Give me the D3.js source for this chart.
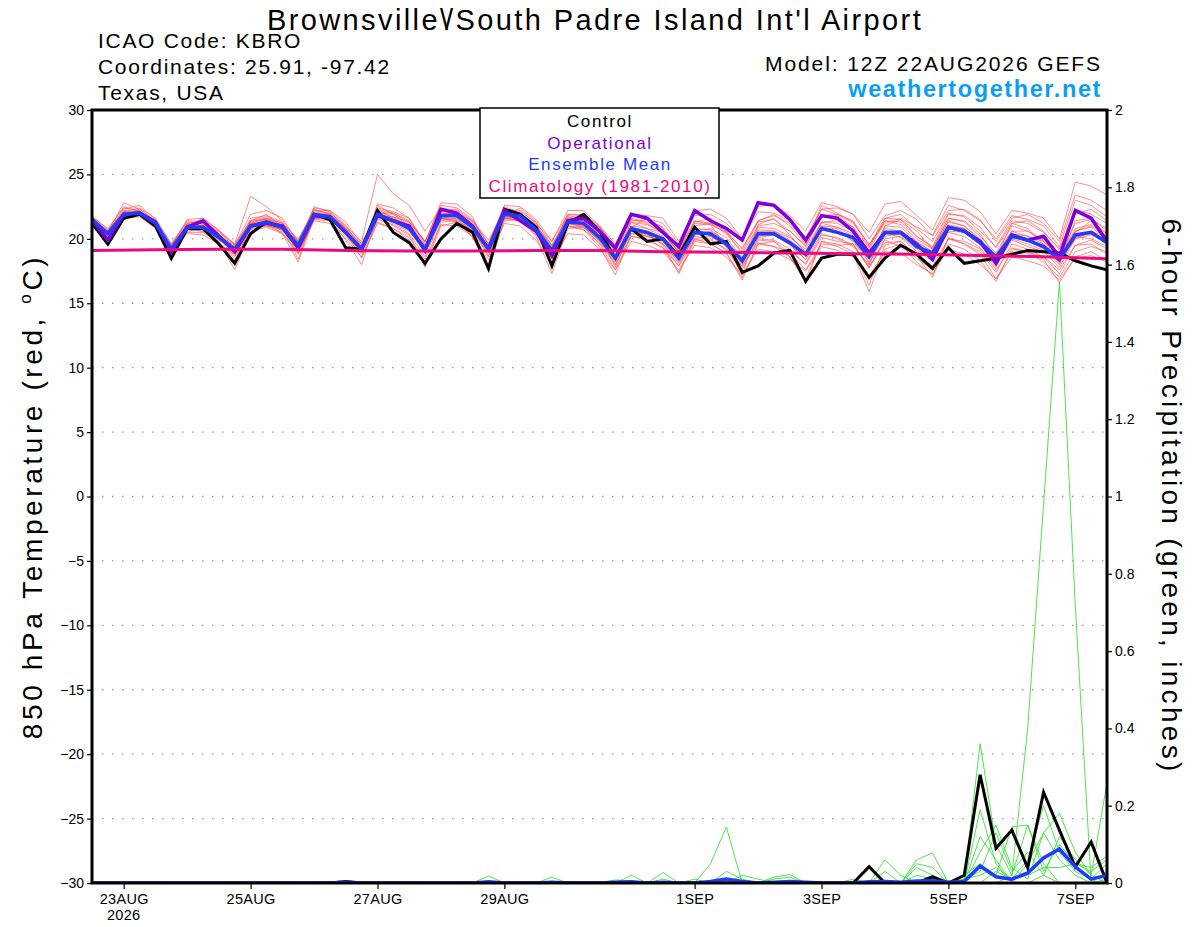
<!DOCTYPE html>
<html>
<head>
<meta charset="utf-8">
<script src="https://cdn.jsdelivr.net/npm/d3@7"></script>
<style>
  body { margin: 0; background: #fff; }
  svg { display: block; font-family: "Liberation Sans", Arial, Helvetica, sans-serif; }
</style>
</head>
<body>
<svg id="chart" width="1200" height="927"></svg>
<script>
// 6-hourly steps from the 12Z 22AUG2026 run, 65 points (0..384h)
const runStart = Date.UTC(2026, 7, 22, 12);
const stepCount = 65;

const tempTicks = [-30, -25, -20, -15, -10, -5, 0, 5, 10, 15, 20, 25, 30];
const precipTicks = [0, 0.2, 0.4, 0.6, 0.8, 1, 1.2, 1.4, 1.6, 1.8, 2];
const dateTicks = ["2026-08-23", "2026-08-25", "2026-08-27", "2026-08-29", "2026-09-01", "2026-09-03", "2026-09-05", "2026-09-07"];
const dateLabels = ["23AUG", "25AUG", "27AUG", "29AUG", "1SEP", "3SEP", "5SEP", "7SEP"];

const legendItems = ["Control", "Operational", "Ensemble Mean", "Climatology (1981-2010)"];

// 850 hPa temperature, deg C
const controlTemp = [21.2,19.6,21.6,21.9,21.0,18.5,20.8,20.8,19.6,18.1,20.4,21.3,20.9,19.3,21.9,21.5,19.3,19.2,22.2,20.5,19.7,18.1,20.0,21.2,20.5,17.7,22.3,21.9,20.9,17.9,21.2,21.9,20.6,18.5,20.8,19.8,20.0,18.7,20.9,19.6,19.8,17.4,17.9,18.9,19.1,16.7,18.5,18.8,18.8,17.0,18.5,19.5,18.8,17.7,19.3,18.1,18.3,18.5,18.8,19.1,19.0,18.9,18.3,17.9,17.6];
const operationalTemp = [21.5,19.9,21.9,22.0,21.3,19.0,20.9,21.4,20.2,19.0,21.0,21.2,21.0,19.3,21.8,21.7,20.5,19.2,21.8,21.4,21.0,19.1,22.3,22.0,21.0,19.2,22.2,21.4,20.6,18.7,21.4,21.6,20.6,19.3,21.9,21.6,20.5,19.4,22.2,21.4,20.8,19.9,22.8,22.6,21.5,19.9,21.8,21.6,20.6,18.9,20.5,20.5,19.6,18.4,20.9,20.6,19.8,18.1,20.3,19.9,20.2,18.6,22.2,21.6,19.8];
const meanTemp = [21.5,20.4,21.9,22.0,21.2,19.2,20.9,20.9,20.1,19.2,21.0,21.3,20.9,19.5,21.9,21.7,20.5,19.2,21.9,21.4,20.8,19.2,21.8,21.8,20.9,19.2,21.9,21.8,20.7,19.1,21.3,21.2,20.1,18.5,20.8,20.5,20.0,18.5,20.5,20.4,19.6,18.3,20.4,20.4,19.7,18.8,20.8,20.5,20.1,18.6,20.5,20.5,19.4,18.9,20.9,20.6,19.7,18.6,20.2,19.9,19.4,18.4,20.3,20.5,19.7];
// climatology, one value per day at 12Z (22AUG..7SEP)
const climoDays = ["2026-08-22","2026-08-23","2026-08-24","2026-08-25","2026-08-26","2026-08-27","2026-08-28","2026-08-29","2026-08-30","2026-08-31","2026-09-01","2026-09-02","2026-09-03","2026-09-04","2026-09-05","2026-09-06","2026-09-07"];
const climoTemp = [19.1,19.15,19.2,19.2,19.1,19.05,19.05,19.1,19.1,19.0,18.95,18.9,18.85,18.8,18.7,18.6,18.45];

const memberTemps = [
  [21.7,20.6,22.3,22.6,21.5,19.0,21.2,21.4,20.4,19.0,21.6,21.8,21.3,19.4,22.5,22.1,20.8,19.0,22.6,21.9,21.2,19.5,22.4,22.2,21.3,19.6,22.5,22.0,21.1,19.3,21.9,21.8,20.8,19.0,21.6,21.3,20.7,19.2,21.4,21.2,20.4,19.0,21.3,21.5,20.6,19.5,21.7,21.8,20.9,19.3,21.6,21.9,20.8,19.8,22.0,21.7,20.6,19.4,21.4,21.2,20.5,19.2,21.9,22.3,21.4],
  [21.3,20.1,21.6,21.7,20.9,18.8,20.5,20.5,19.7,18.6,20.6,20.9,20.4,18.9,21.4,21.2,20.0,18.6,21.3,20.8,20.1,18.4,21.1,21.0,20.2,18.4,21.2,21.0,19.9,18.2,20.4,20.3,19.2,17.6,19.8,19.5,19.0,17.6,19.5,19.3,18.6,17.2,19.2,19.0,18.4,17.5,19.4,19.1,18.6,17.1,19.0,18.9,18.0,17.3,19.2,18.8,18.0,16.9,18.6,18.3,17.9,16.8,18.5,18.7,18.2],
  [21.6,20.5,22.8,22.3,21.4,19.5,21.0,21.6,20.6,19.6,23.3,22.5,21.4,19.8,22.2,22.0,21.0,19.8,25.0,23.5,22.6,20.6,22.4,22.0,21.4,19.9,22.2,22.0,21.0,19.4,21.8,21.6,20.9,19.4,21.5,21.2,20.4,19.0,21.3,21.6,20.5,19.3,21.4,21.8,21.2,19.8,22.3,21.9,21.2,19.6,21.2,21.6,20.9,20.3,22.6,22.2,21.4,20.0,21.8,21.5,21.0,19.4,23.0,22.6,21.7],
  [21.4,20.3,21.7,21.8,20.8,18.6,20.7,20.6,19.8,18.4,20.8,21.0,20.5,18.8,21.5,21.4,20.2,18.8,21.5,21.1,20.4,18.6,21.5,21.6,20.6,18.9,21.7,21.9,20.6,18.8,21.4,21.5,20.5,19.0,21.3,20.8,20.5,19.0,20.8,20.2,19.6,17.8,19.9,19.8,18.9,17.6,19.6,19.5,19.6,17.8,19.7,19.8,18.7,17.9,20.0,19.8,19.2,17.6,19.3,19.0,18.6,17.3,19.5,19.6,18.8],
  [21.6,20.6,22.1,22.4,21.6,19.6,21.3,21.2,20.5,19.6,21.4,21.7,21.2,20.0,22.0,21.9,20.8,19.6,22.1,22.0,21.3,19.8,22.1,22.3,21.4,19.6,22.3,22.2,21.2,19.8,21.9,21.9,21.0,19.6,21.8,21.6,21.2,19.6,21.8,21.9,21.2,20.0,22.1,22.0,21.4,20.1,22.3,22.4,21.9,20.0,21.8,22.2,21.5,20.2,22.2,22.3,21.5,19.8,21.6,21.9,21.2,19.8,23.4,23.0,22.2],
  [21.2,19.8,21.6,21.9,20.8,18.3,20.6,20.8,19.7,17.6,20.5,21.2,20.4,18.2,21.6,21.5,19.9,18.0,21.8,21.0,20.3,17.8,21.0,21.3,20.2,17.5,21.6,21.4,20.2,17.3,20.8,20.9,19.6,17.6,20.2,20.0,19.3,17.4,20.0,19.6,18.9,17.0,19.6,19.4,18.6,16.6,19.8,19.6,19.0,16.4,19.5,19.8,18.7,17.0,20.1,19.6,18.8,16.9,19.0,18.9,18.2,17.0,19.0,19.4,19.0],
  [21.5,20.5,22.0,22.2,21.3,19.5,21.2,21.0,20.3,19.4,21.3,21.6,21.2,19.9,22.3,21.9,20.9,19.5,22.0,21.9,21.0,19.2,21.4,21.6,20.8,19.5,21.5,21.9,21.0,19.5,21.7,21.4,20.3,18.6,21.3,21.1,20.5,18.9,21.0,21.2,20.6,19.2,21.4,21.9,21.0,19.6,22.6,22.0,21.3,19.4,21.4,21.1,20.0,19.2,21.3,21.0,20.0,18.6,20.6,20.2,19.8,18.4,20.8,21.1,20.4],
  [21.7,20.8,22.4,22.2,21.0,19.4,21.5,21.6,20.7,19.5,21.9,22.2,21.6,19.7,22.0,21.6,20.4,18.9,22.7,22.4,21.6,19.7,22.8,22.7,21.7,19.0,21.7,21.4,20.5,18.7,21.0,20.7,19.7,18.0,20.2,19.9,19.3,17.9,19.9,19.9,19.2,17.9,19.7,19.4,19.0,18.1,20.3,20.1,19.5,17.8,20.0,20.2,19.2,18.4,20.6,20.5,19.5,18.0,19.9,19.4,19.0,17.8,20.0,20.6,20.1],
  [21.4,20.2,21.8,22.1,21.4,19.3,20.9,21.0,20.2,19.1,21.0,21.5,21.1,19.8,22.2,22.2,21.0,19.4,22.1,21.7,21.3,19.8,22.6,22.4,21.5,19.6,22.6,22.5,21.5,19.8,22.2,22.2,21.0,19.3,21.9,21.8,21.6,19.8,22.2,22.3,21.6,20.0,22.5,22.7,21.8,20.6,22.8,22.5,21.9,20.5,22.7,22.9,21.8,20.7,23.2,23.0,22.1,20.4,22.2,22.0,21.6,20.0,24.4,24.1,23.4],
  [21.3,20.0,21.5,21.9,21.1,18.9,20.4,20.3,19.6,18.8,20.7,21.1,20.7,19.2,21.6,21.6,20.3,19.0,21.8,21.2,20.6,19.0,21.6,21.3,20.6,19.1,21.8,21.7,20.8,19.0,21.2,21.0,19.8,18.2,20.4,20.2,19.8,18.1,20.2,20.0,19.1,17.6,20.0,19.9,19.2,18.0,20.1,19.8,19.6,17.7,19.9,19.4,18.5,17.6,20.0,19.6,19.0,17.4,19.6,19.2,18.6,17.6,19.5,19.9,19.2],
  [21.8,20.7,22.5,22.1,21.0,18.9,20.7,21.1,20.3,18.9,21.4,21.9,20.9,18.4,21.8,21.9,20.7,19.3,22.4,22.1,21.6,19.5,21.9,22.1,21.0,18.6,21.8,22.4,21.3,18.5,21.6,21.4,20.4,17.8,20.9,21.6,20.8,18.4,21.4,21.1,19.4,17.2,21.1,21.6,20.3,18.9,21.3,21.4,20.9,18.0,21.0,21.5,20.6,19.2,21.6,21.4,20.4,18.5,21.2,20.8,19.6,18.1,21.4,21.6,20.6],
  [21.6,20.4,21.9,21.8,21.1,19.3,21.1,21.0,20.1,19.3,21.1,21.4,21.0,19.6,21.9,21.6,20.7,19.3,22.0,21.5,21.0,19.3,21.6,21.8,21.1,19.3,21.9,21.6,20.6,19.3,21.3,21.2,20.4,18.8,20.7,20.3,19.6,18.2,20.0,20.2,19.4,18.0,20.1,20.3,19.5,18.4,20.4,20.0,19.4,18.0,20.6,20.4,19.3,18.6,20.5,20.2,19.3,17.8,20.2,19.9,19.2,18.0,20.2,20.0,19.4],
  [21.5,20.6,22.2,22.1,21.2,19.4,21.0,20.8,20.0,19.0,21.2,21.2,20.6,19.3,21.8,21.8,20.6,19.1,21.6,21.4,20.7,18.9,21.6,21.5,20.6,18.7,21.6,21.4,20.4,19.0,21.0,20.9,19.9,18.4,20.6,20.2,19.9,18.3,20.6,20.8,20.1,18.5,20.9,20.8,20.2,19.0,21.2,20.9,20.2,18.6,21.0,20.9,19.8,19.0,21.4,21.0,19.9,18.8,20.6,20.6,19.9,18.6,20.6,21.0,20.2],
  [21.3,19.9,21.7,21.9,21.0,18.7,20.8,21.1,20.0,18.7,20.9,21.4,20.9,18.9,21.7,21.5,20.4,18.5,21.2,20.8,19.9,17.9,21.3,21.4,20.1,17.9,21.4,21.5,20.3,18.4,21.0,20.7,19.4,17.2,20.4,20.4,19.5,17.3,19.8,19.6,18.9,16.8,19.6,19.8,18.6,16.9,19.8,19.4,18.8,15.9,19.2,19.6,18.2,17.2,19.6,19.2,18.3,16.7,19.2,19.0,18.4,16.6,18.6,19.0,18.3],
  [21.6,20.3,22.0,22.0,21.5,19.6,21.4,21.3,20.6,19.3,21.2,21.6,21.0,19.7,22.4,22.2,21.3,19.6,22.3,21.6,21.0,19.4,22.0,21.9,21.1,19.3,22.0,22.1,21.3,19.5,21.6,21.7,20.9,19.2,21.4,21.5,20.9,19.1,21.2,21.1,20.5,18.8,21.0,21.2,20.6,19.4,21.8,21.9,21.4,19.5,21.6,21.5,20.2,19.4,21.9,21.8,20.9,19.3,21.2,21.4,20.6,19.2,22.3,21.9,21.2],
  [21.4,20.4,21.8,22.3,21.4,19.1,20.8,20.6,19.9,19.2,20.9,21.0,20.8,19.6,22.0,21.7,20.5,19.3,21.8,21.7,21.0,19.2,21.6,21.4,20.7,19.2,21.9,21.7,20.7,18.9,21.2,21.0,20.0,18.0,20.6,20.4,19.6,17.9,20.3,20.6,19.8,18.2,20.6,20.4,19.6,18.4,20.8,20.8,19.8,18.4,20.5,20.1,19.0,18.3,20.8,20.6,19.6,18.3,20.0,19.6,19.1,18.2,20.5,21.4,20.4],
  [21.7,20.5,22.1,21.9,21.0,19.4,21.0,21.2,20.3,19.5,21.4,21.5,20.8,19.4,21.8,21.8,20.8,19.4,22.3,22.0,21.4,19.8,22.2,21.9,20.9,19.4,21.7,21.6,20.7,19.2,21.4,21.3,20.3,18.6,21.0,20.8,20.2,18.7,20.8,20.7,19.8,18.6,20.7,20.6,20.1,19.2,21.3,21.2,20.6,19.1,21.4,21.3,20.2,19.3,21.6,21.3,20.2,18.9,21.0,20.6,19.8,18.6,21.2,21.5,20.8],
  [21.4,20.2,21.8,22.0,21.2,19.0,20.9,21.0,20.1,19.0,21.0,21.1,20.7,19.3,21.9,21.8,20.6,19.2,22.0,21.6,20.9,19.1,21.7,21.9,21.1,19.2,21.9,21.8,20.9,19.0,21.2,20.9,19.9,18.3,20.8,20.5,20.0,18.5,20.5,20.4,19.7,18.1,20.2,20.4,19.8,18.7,21.0,20.6,19.8,18.2,20.2,20.4,19.5,18.9,21.1,20.8,19.8,18.3,20.4,20.0,19.4,18.2,20.0,20.3,19.7],
  [21.6,20.5,22.0,22.0,21.3,19.3,21.1,21.2,20.3,19.3,21.2,21.5,21.0,19.5,22.1,21.9,20.7,19.3,21.9,21.5,20.8,19.2,21.9,22.0,21.0,19.4,22.1,22.0,20.9,19.2,21.5,21.3,20.2,18.6,20.9,20.6,20.1,18.6,20.5,20.3,19.6,18.4,20.5,20.6,19.9,18.9,21.0,20.9,20.4,18.9,20.8,20.6,19.7,19.0,21.0,20.8,19.8,18.6,20.4,20.2,19.6,18.5,20.6,20.9,20.0],
  [21.5,20.4,22.1,22.1,21.2,19.2,20.9,20.9,20.0,19.2,21.1,21.3,20.9,19.5,21.9,21.7,20.5,19.1,21.9,21.4,20.7,19.1,21.8,21.8,20.9,19.1,21.8,21.7,20.7,19.0,21.3,21.1,20.1,18.4,20.7,20.4,19.9,18.4,20.4,20.3,19.5,18.2,20.3,20.3,19.6,18.6,20.7,20.5,20.0,18.6,20.4,20.3,19.3,18.8,20.8,20.5,19.6,18.4,20.2,19.8,19.3,18.2,20.1,20.4,19.6]
];

// 6-hour precipitation, inches
const controlPrecip = [
  0,0,0,0,0,0,0,0,0,0,0,0,0,
  0,0,0,0.004,0,0,0,0,0,0,0,0,0,
  0,0,0,0,0,0,0,0,0,0,0,0,0,
  0,0,0,0,0,0,0,0,0,0,0.042,0,0,
  0,0.016,0,0.02,0.28,0.09,0.137,0.039,0.235,0.137,0.042,0.106,0
];
const meanPrecip = [
  0,0,0,0,0,0,0,0,0,0,0,0,0,
  0,0,0,0.002,0,0,0,0,0,0,0,0,0.003,
  0,0,0,0.002,0,0,0,0.002,0.003,0,0.002,0,0,
  0.004,0.01,0.004,0,0.002,0.004,0.002,0,0,0,0.003,0.004,0.002,
  0.005,0.006,0.002,0.004,0.044,0.016,0.01,0.026,0.065,0.088,0.042,0.01,0.02
];
const memberPrecips = [
  [0,0,0,0,0,0,0,0,0,0,0,0,0, 0,0,0,0,0,0,0,0,0,0,0,0,0.018, 0,0,0,0,0,0,0,0,0,0,0,0,0, 0.05,0.145,0,0,0,0,0,0,0,0,0,0,0, 0,0,0,0,0.19,0.05,0,0,0.02,0,0,0,0],
  [0,0,0,0,0,0,0,0,0,0,0,0,0, 0,0,0,0,0,0,0,0,0,0,0,0,0, 0,0,0,0,0,0,0,0,0.02,0,0,0,0, 0,0,0,0,0,0,0,0,0,0,0,0,0, 0,0,0,0,0,0,0.02,0.4,0.98,1.555,0.72,0,0],
  [0,0,0,0,0,0,0,0,0,0,0,0,0, 0,0,0,0,0,0,0,0,0,0,0,0,0, 0,0,0,0.015,0,0,0,0,0,0,0.027,0,0, 0,0,0,0,0,0,0,0,0,0,0,0,0, 0.06,0.078,0,0.01,0.36,0.1,0.02,0.15,0.05,0,0,0,0.01],
  [0,0,0,0,0,0,0,0,0,0,0,0,0, 0,0,0,0,0,0,0,0,0,0,0,0,0, 0,0,0,0,0,0,0,0,0,0,0,0,0, 0,0.03,0.01,0,0,0,0,0,0,0,0,0.06,0.02, 0,0.01,0,0,0.12,0.06,0,0.05,0.13,0.18,0.08,0.02,0.26],
  [0,0,0,0,0,0,0,0,0,0,0,0,0, 0,0,0,0,0,0,0,0,0,0,0,0,0, 0,0,0,0,0,0,0,0,0,0,0,0,0, 0,0,0,0,0.015,0.022,0,0,0,0,0,0,0, 0.05,0.04,0,0.01,0.03,0.13,0.03,0.08,0.02,0.12,0.06,0.02,0],
  [0,0,0,0,0,0,0,0,0,0,0,0,0, 0,0,0,0,0,0,0,0,0,0,0,0,0, 0,0,0,0,0,0,0,0.008,0.005,0,0,0,0, 0,0,0.02,0.01,0,0,0,0,0,0.01,0,0,0, 0,0.02,0,0.02,0.05,0.02,0.145,0.15,0.03,0.1,0.05,0.03,0.06],
  [0,0,0,0,0,0,0,0,0,0,0,0,0, 0,0,0,0,0.003,0,0,0,0,0,0,0,0, 0,0,0,0,0.004,0,0,0,0,0,0.01,0,0.01, 0,0,0,0,0.01,0.015,0,0,0,0,0,0,0, 0.02,0.01,0,0,0.08,0.15,0.04,0.01,0.13,0.06,0.02,0,0.03],
  [0,0,0,0,0,0,0,0,0,0,0,0,0, 0,0,0,0,0,0,0,0,0,0,0,0,0, 0,0,0,0,0,0,0,0,0,0,0,0,0, 0,0,0,0,0,0,0,0,0,0.005,0,0.03,0, 0.04,0.02,0,0,0,0.03,0.01,0.06,0.2,0.08,0.03,0.01,0.05],
  [0,0,0,0,0,0,0,0,0,0,0,0,0, 0,0,0,0,0,0,0,0,0,0,0,0,0, 0,0,0,0,0,0,0,0,0,0,0,0,0, 0,0,0,0,0,0,0,0,0,0,0,0,0, 0,0,0,0.01,0.02,0.04,0.01,0.02,0.04,0.04,0.05,0.04,0.07]
];

const svg = d3.select('#chart');
const plotLeft = 92, plotRight = 1107, plotTop = 110, plotBottom = 883;

const times = d3.range(stepCount).map(i => new Date(runStart + i * 6 * 3600 * 1000));
const parseDay = d3.utcParse('%Y-%m-%d');

const x = d3.scaleUtc()
  .domain([times[0], times[stepCount - 1]])
  .range([plotLeft, plotRight]);
const yTemp = d3.scaleLinear().domain([-30, 30]).range([plotBottom, plotTop]);
const yPrecip = d3.scaleLinear().domain([0, 2]).range([plotBottom, plotTop]);

svg.append('rect').attr('width', 1200).attr('height', 927).attr('fill', '#fff');

svg.append('clipPath').attr('id', 'plotClip')
  .append('rect').attr('x', plotLeft).attr('y', plotTop)
  .attr('width', plotRight - plotLeft).attr('height', plotBottom - plotTop);

// dotted grid at the temperature ticks
svg.append('g')
  .selectAll('line')
  .data(tempTicks.filter(t => t > -30 && t < 30))
  .enter()
  .append('line')
  .attr('x1', plotLeft).attr('x2', plotRight)
  .attr('y1', d => yTemp(d)).attr('y2', d => yTemp(d))
  .attr('stroke', '#9a9a9a')
  .attr('stroke-width', 1.3)
  .attr('stroke-dasharray', '1.5,8.5');

const plot = svg.append('g').attr('clip-path', 'url(#plotClip)');

const tempLine = d3.line().x((d, i) => x(times[i])).y(d => yTemp(d));
const precipLine = d3.line().x((d, i) => x(times[i])).y(d => yPrecip(d));

plot.selectAll('.pmember')
  .data(memberPrecips)
  .enter()
  .append('path')
  .classed('pmember', true)
  .attr('d', precipLine)
  .attr('fill', 'none')
  .attr('stroke', '#3be03b')
  .attr('stroke-width', 0.9);

plot.selectAll('.tmember')
  .data(memberTemps)
  .enter()
  .append('path')
  .classed('tmember', true)
  .attr('d', tempLine)
  .attr('fill', 'none')
  .attr('stroke', '#ff4a4a')
  .attr('stroke-opacity', 0.8)
  .attr('stroke-width', 0.8);

plot.append('path').attr('d', precipLine(controlPrecip))
  .attr('fill', 'none').attr('stroke', '#000').attr('stroke-width', 3);
plot.append('path').attr('d', precipLine(meanPrecip))
  .attr('fill', 'none').attr('stroke', '#1e3cff').attr('stroke-width', 3.5);

plot.append('path').attr('d', tempLine(controlTemp))
  .attr('fill', 'none').attr('stroke', '#000').attr('stroke-width', 3);
plot.append('path').attr('d', tempLine(operationalTemp))
  .attr('fill', 'none').attr('stroke', '#7d00dc').attr('stroke-width', 3.5);
plot.append('path').attr('d', tempLine(meanTemp))
  .attr('fill', 'none').attr('stroke', '#1e3cff').attr('stroke-width', 3.5);

const climoLine = d3.line()
  .x((d, i) => x(new Date(parseDay(climoDays[i]).getTime() + 12 * 3600 * 1000)))
  .y(d => yTemp(d));
plot.append('path').attr('d', climoLine(climoTemp))
  .attr('fill', 'none').attr('stroke', '#eb0a80').attr('stroke-width', 3);

// axes
const leftAxis = svg.append('g')
  .attr('transform', `translate(${plotLeft},0)`)
  .call(d3.axisLeft(yTemp).tickValues(tempTicks).tickSize(5).tickPadding(3));
const rightAxis = svg.append('g')
  .attr('transform', `translate(${plotRight},0)`)
  .call(d3.axisRight(yPrecip).tickValues(precipTicks).tickSize(5).tickPadding(3).tickFormat(d3.format('~g')));
const bottomAxis = svg.append('g')
  .attr('transform', `translate(0,${plotBottom})`)
  .call(d3.axisBottom(x).tickValues(dateTicks.map(parseDay)).tickSize(6).tickPadding(5)
    .tickFormat((d, i) => dateLabels[i]));

[leftAxis, rightAxis, bottomAxis].forEach(a => {
  a.select('.domain').remove();
  a.selectAll('text').attr('font-size', 14).attr('fill', '#000')
    .attr('font-family', '"Liberation Sans", Arial, sans-serif');
  a.selectAll('line').attr('stroke', '#000').attr('stroke-width', 1.2);
});
bottomAxis.selectAll('text').attr('font-size', 14.5).attr('letter-spacing', 0.3);

svg.append('text')
  .attr('x', x(parseDay(dateTicks[0]))).attr('y', 920)
  .attr('text-anchor', 'middle').attr('font-size', 14.5).attr('letter-spacing', 0.3)
  .text('2026');

// frame
svg.append('rect')
  .attr('x', plotLeft).attr('y', plotTop)
  .attr('width', plotRight - plotLeft).attr('height', plotBottom - plotTop)
  .attr('fill', 'none').attr('stroke', '#000').attr('stroke-width', 3);

// axis titles
svg.append('text')
  .attr('transform', `translate(42,${(plotTop + plotBottom) / 2}) rotate(-90)`)
  .attr('text-anchor', 'middle')
  .attr('font-size', 28)
  .attr('letter-spacing', 3.6)
  .html('850 hPa Temperature (red, <tspan dy="-11" font-size="17">o</tspan><tspan dy="11">C)</tspan>');
svg.append('text')
  .attr('transform', `translate(1162,${(plotTop + plotBottom) / 2}) rotate(90)`)
  .attr('text-anchor', 'middle')
  .attr('font-size', 28)
  .attr('letter-spacing', 3.3)
  .text('6-hour Precipitation (green, inches)');

// header
svg.append('text').attr('x', 595).attr('y', 30).attr('text-anchor', 'middle')
  .attr('font-size', 29).attr('letter-spacing', 2.4)
  .html("Brownsville<tspan letter-spacing='-3'>\\</tspan>/South Padre Island Int'l Airport");
const infoLeft = ['ICAO Code: KBRO', 'Coordinates: 25.91, -97.42', 'Texas, USA'];
svg.selectAll('.info')
  .data(infoLeft)
  .enter()
  .append('text')
  .attr('x', 98).attr('y', (d, i) => 48 + i * 26)
  .attr('font-size', 21)
  .attr('letter-spacing', 1.7)
  .text(d => d);
svg.append('text').attr('x', 1102).attr('y', 71).attr('text-anchor', 'end')
  .attr('font-size', 21).attr('letter-spacing', 1.9).text('Model: 12Z 22AUG2026 GEFS');
svg.append('text').attr('x', 1102).attr('y', 97).attr('text-anchor', 'end')
  .attr('font-size', 23.5).attr('font-weight', 'bold').attr('fill', '#0a9ef5')
  .attr('letter-spacing', 1.6)
  .text('weathertogether.net');

// legend
const legendColors = ['#000', '#7d00dc', '#1e3cff', '#eb0a80'];
svg.append('rect')
  .attr('x', 480).attr('y', 108).attr('width', 239).attr('height', 90)
  .attr('fill', '#fff').attr('stroke', '#000').attr('stroke-width', 1.5);
svg.selectAll('.legend')
  .data(legendItems)
  .enter()
  .append('text')
  .attr('x', 600).attr('y', (d, i) => 127 + i * 21.7)
  .attr('text-anchor', 'middle')
  .attr('font-size', 17)
  .attr('letter-spacing', 1.6)
  .attr('fill', (d, i) => legendColors[i])
  .text(d => d);
</script>
</body>
</html>
